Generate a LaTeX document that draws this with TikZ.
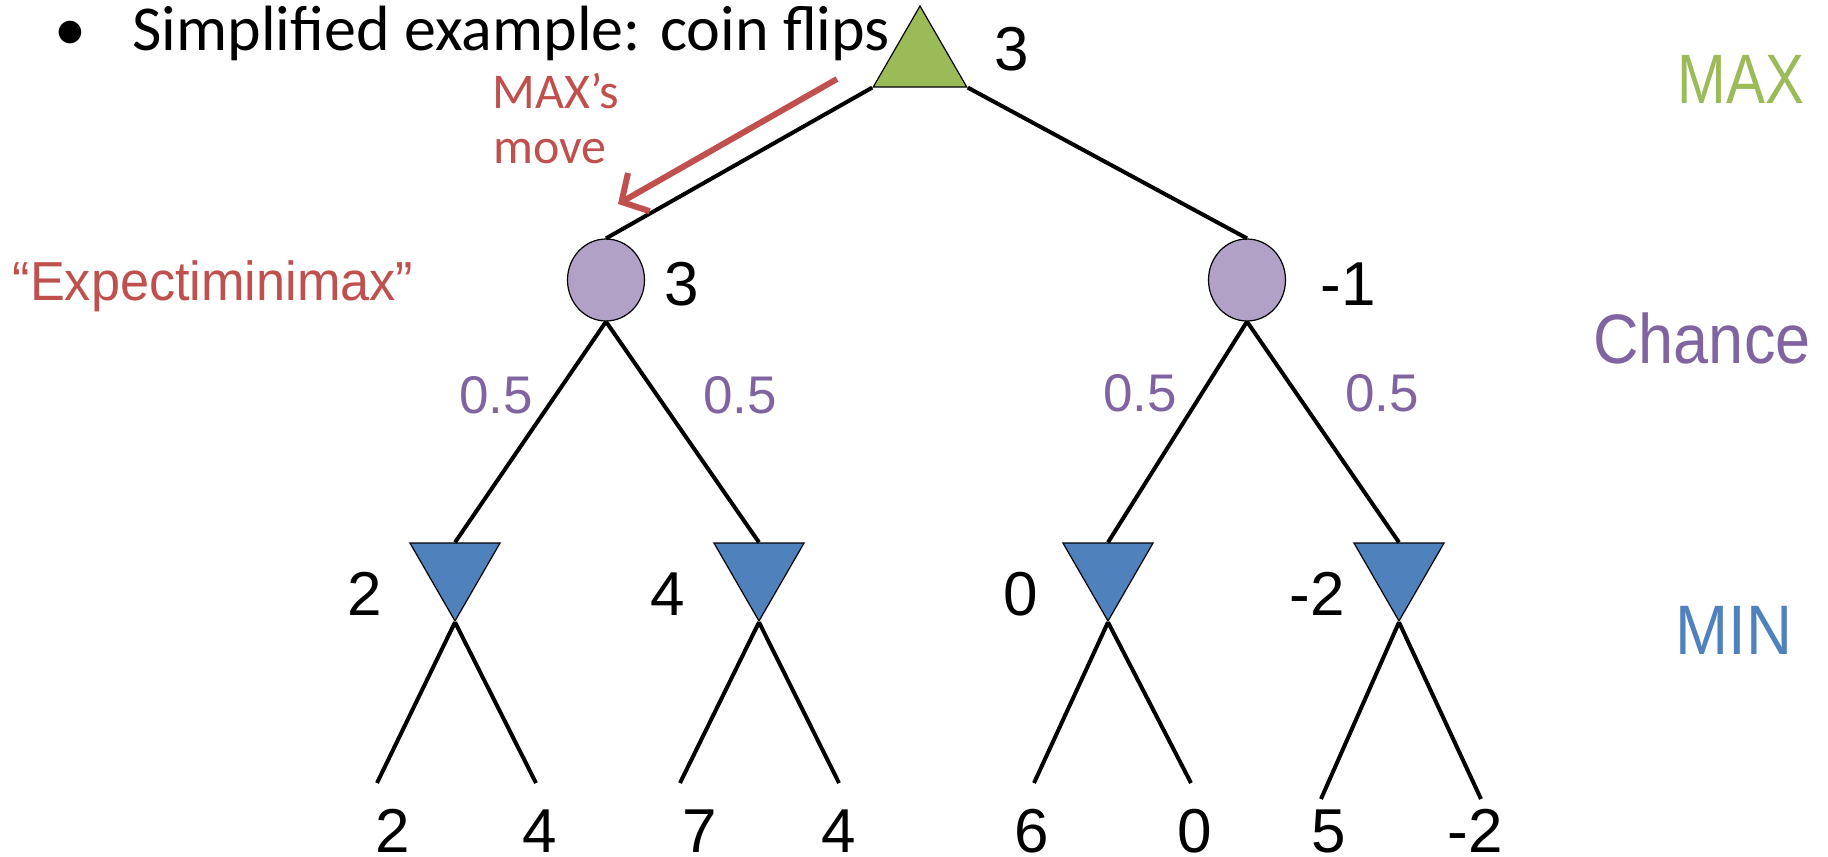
\documentclass[tikz,border=0pt]{standalone}
\usepackage{fontspec}
\setmainfont{Liberation Sans}
\newfontfamily\calfont{Carlito}
\usetikzlibrary{shapes.geometric,arrows.meta}
\definecolor{maxg}{HTML}{9BBB59}
\definecolor{chp}{HTML}{B2A1C7}
\definecolor{chtxt}{HTML}{8064A2}
\definecolor{minb}{HTML}{4F81BD}
\definecolor{redt}{HTML}{C0504D}
\newcommand\narrowtxt[2]{\scalebox{#1}[1]{#2}}
\begin{document}
\begin{tikzpicture}[x=0.5pt,y=-0.5pt,
  maxnode/.style={regular polygon, regular polygon sides=3, minimum size=54pt, inner sep=0pt, draw=black, line width=0.6pt, fill=maxg},
  minnode/.style={regular polygon, regular polygon sides=3, shape border rotate=180, minimum size=52pt, inner sep=0pt, draw=black, line width=0.6pt, fill=minb},
  chnode/.style={ellipse, minimum width=38.5pt, minimum height=41pt, inner sep=0pt, draw=black, line width=0.6pt, fill=chp},
  edge/.style={line width=2pt, black},
  val/.style={inner sep=0pt, anchor=base, font=\fontsize{31}{33}\selectfont},
  prob/.style={inner sep=0pt, anchor=base, text=chtxt, font=\fontsize{26.5}{28}\selectfont},
  lvl/.style={inner sep=0pt, font=\fontsize{35}{37}\selectfont},
  redtxt/.style={inner sep=0pt, text=redt}
]
\useasboundingbox (0,0) rectangle (1828,857);

% header
\node[inner sep=0pt, anchor=base] (bul) at (70,50) {\calfont\fontsize{32}{34}\selectfont •};
\node[inner sep=0pt, anchor=base west] (title) at (132,50) {\calfont\fontsize{32}{34}\selectfont Simplified example: coin flips};

% level labels
\node[lvl, text=maxg] (lmax) at (1741,79) {\narrowtxt{0.835}{MAX}};
\node[lvl, text=chtxt] (lch) at (1702,338) {\narrowtxt{0.9}{Chance}};
\node[lvl, text=minb] (lmin) at (1734,630) {\narrowtxt{0.91}{MIN}};

% nodes
\node[maxnode] (root) at (920,60) {};
\node[chnode] (c1) at (606,280) {};
\node[chnode] (c2) at (1247,280) {};
\node[minnode] (m1) at (455,569) {};
\node[minnode] (m2) at (759,569) {};
\node[minnode] (m3) at (1108,569) {};
\node[minnode] (m4) at (1399,569) {};

% values
\node[val] (vroot) at (1012,70) {3};
\node[val] (vc1) at (682,305) {3};
\node[val] (vc2) at (1348,305) {-1};
\node[val] (vm1) at (365,615) {2};
\node[val] (vm2) at (668,615) {4};
\node[val] (vm3) at (1021,615) {0};
\node[val] (vm4) at (1317,615) {-2};

% leaves
\node[val] (l1) at (393,852) {2};
\node[val] (l2) at (540,852) {4};
\node[val] (l3) at (700,852) {7};
\node[val] (l4) at (839,852) {4};
\node[val] (l5) at (1032,852) {6};
\node[val] (l6) at (1195,852) {0};
\node[val] (l7) at (1329,852) {5};
\node[val] (l8) at (1475,852) {-2};

\coordinate (e1) at (377,783);
\coordinate (e2) at (536,783);
\coordinate (e3) at (680,783);
\coordinate (e4) at (839,783);
\coordinate (e5) at (1034,783);
\coordinate (e6) at (1191,783);
\coordinate (e7) at (1321,799);
\coordinate (e8) at (1481,799);

% probabilities
\node[prob] (p1) at (496,413) {0.5};
\node[prob] (p2) at (740,413) {0.5};
\node[prob] (p3) at (1140,411) {0.5};
\node[prob] (p4) at (1382,411) {0.5};

% red annotations
\node[redtxt, font=\fontsize{27.5}{29}\selectfont] (expm) at (213,286) {\narrowtxt{0.95}{“Expectiminimax”}};
\node[redtxt, font=\calfont\fontsize{25}{27}\selectfont] (mmv1) at (556,91) {MAX’s};
\node[redtxt, font=\calfont\fontsize{25}{27}\selectfont] (mmv2) at (550,152) {move};
\coordinate (ra) at (837,79);
\coordinate (rb) at (618,204);

% edges
\draw[edge] (root.corner 2) -- (c1.north);
\draw[edge] (root.corner 3) -- (c2.north);
\draw[edge] (c1.south) -- (m1.north);
\draw[edge] (c1.south) -- (m2.north);
\draw[edge] (c2.south) -- (m3.north);
\draw[edge] (c2.south) -- (m4.north);
\draw[edge] (m1.south) -- (e1);
\draw[edge] (m1.south) -- (e2);
\draw[edge] (m2.south) -- (e3);
\draw[edge] (m2.south) -- (e4);
\draw[edge] (m3.south) -- (e5);
\draw[edge] (m3.south) -- (e6);
\draw[edge] (m4.south) -- (e7);
\draw[edge] (m4.south) -- (e8);
\draw[line width=3pt, redt, -{Straight Barb[length=10pt,width=22pt,line width=3pt]}] (ra) -- (rb);
\end{tikzpicture}
\end{document}
